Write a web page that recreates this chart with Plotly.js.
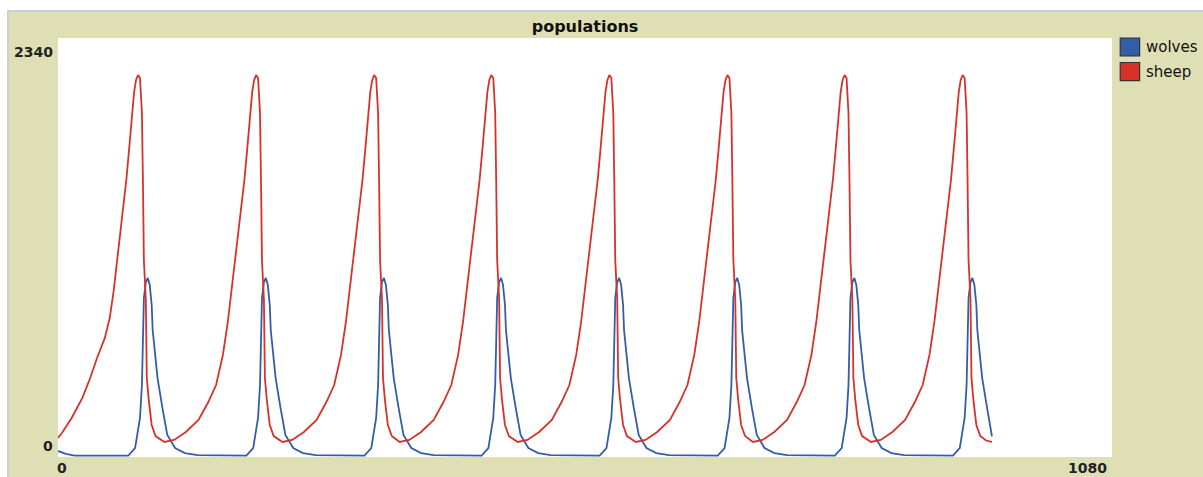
<!DOCTYPE html>
<html>
<head>
<meta charset="utf-8">
<script src="https://cdn.plot.ly/plotly-3.0.1.min.js"></script>
<style>
  html, body { margin: 0; padding: 0; background: #ffffff; width: 1203px; height: 477px; overflow: hidden; }
  #frame { position: absolute; left: 7px; top: 10px; border-top: 2px solid #cfcfcf; border-left: 2px solid #cfcfcf; width: 1194px; height: 465px; }
  #chart { width: 1194px; height: 465px; }
</style>
</head>
<body>
<div id="frame"><div id="chart"></div></div>
<script>
// ---- data ----
const xRange = [0, 1080];
const yRange = [0, 2340];
const xTickLabels = ["0", "1080"];
const yTickLabels = ["0", "2340"];
const seriesNames = ["wolves", "sheep"];

const sheepT = [
  0, 4, 14, 25, 33, 40, 48, 53, 57, 62, 66, 70, 73, 76, 78, 80, 82, 84, 85, 86, 87, 88, 90, 91, 93, 96, 100, 107,
  109, 119, 131, 144, 154, 162, 169, 174, 178, 183, 187, 191, 194, 197, 199, 201, 203, 205, 206, 207, 208, 209, 211, 212, 214, 217, 221, 228,
  230, 240, 252, 265, 275, 283, 290, 295, 299, 304, 308, 312, 315, 318, 320, 322, 324, 326, 327, 328, 329, 330, 332, 333, 335, 338, 342, 349,
  350, 360, 372, 385, 395, 403, 410, 415, 419, 424, 428, 432, 435, 438, 440, 442, 444, 446, 447, 448, 449, 450, 452, 453, 455, 458, 462, 469,
  471, 481, 493, 506, 516, 524, 531, 536, 540, 545, 549, 553, 556, 559, 561, 563, 565, 567, 568, 569, 570, 571, 573, 574, 576, 579, 583, 590,
  592, 602, 614, 627, 637, 645, 652, 657, 661, 666, 670, 674, 677, 680, 682, 684, 686, 688, 689, 690, 691, 692, 694, 695, 697, 700, 704, 711,
  712, 722, 734, 747, 757, 765, 772, 777, 781, 786, 790, 794, 797, 800, 802, 804, 806, 808, 809, 810, 811, 812, 814, 815, 817, 820, 824, 831,
  833, 843, 855, 868, 878, 886, 893, 898, 902, 907, 911, 915, 918, 921, 923, 925, 927, 929, 930, 931, 932, 933, 935, 936, 938, 941, 945, 951, 957
];
const sheepN = [
  106, 134, 218, 330, 441, 553, 665, 776, 927, 1156, 1352, 1547, 1726, 1938, 2039, 2106, 2133, 2117, 2022, 1921, 1547, 1100, 877, 441, 318, 179, 117, 89,
  84, 95, 140, 207, 307, 402, 570, 754, 933, 1156, 1352, 1547, 1726, 1938, 2039, 2106, 2133, 2117, 2022, 1921, 1547, 1100, 877, 441, 318, 179, 117, 89,
  84, 95, 140, 207, 307, 402, 570, 754, 933, 1156, 1352, 1547, 1726, 1938, 2039, 2106, 2133, 2117, 2022, 1921, 1547, 1100, 877, 441, 318, 179, 117, 89,
  84, 95, 140, 207, 307, 402, 570, 754, 933, 1156, 1352, 1547, 1726, 1938, 2039, 2106, 2133, 2117, 2022, 1921, 1547, 1100, 877, 441, 318, 179, 117, 89,
  84, 95, 140, 207, 307, 402, 570, 754, 933, 1156, 1352, 1547, 1726, 1938, 2039, 2106, 2133, 2117, 2022, 1921, 1547, 1100, 877, 441, 318, 179, 117, 89,
  84, 95, 140, 207, 307, 402, 570, 754, 933, 1156, 1352, 1547, 1726, 1938, 2039, 2106, 2133, 2117, 2022, 1921, 1547, 1100, 877, 441, 318, 179, 117, 89,
  84, 95, 140, 207, 307, 402, 570, 754, 933, 1156, 1352, 1547, 1726, 1938, 2039, 2106, 2133, 2117, 2022, 1921, 1547, 1100, 877, 441, 318, 179, 117, 89,
  84, 95, 140, 207, 307, 402, 570, 754, 933, 1156, 1352, 1547, 1726, 1938, 2039, 2106, 2133, 2117, 2022, 1921, 1547, 1100, 877, 441, 318, 179, 117, 92, 84
];

const wolvesT = [
  0, 8, 17, 72, 79, 84, 86, 87, 88, 90, 92, 94, 96, 97, 99, 102, 107, 112, 120, 130, 143,
  193, 200, 205, 207, 208, 209, 211, 213, 215, 217, 218, 220, 223, 228, 233, 241, 251, 264,
  314, 321, 326, 328, 329, 330, 332, 334, 336, 338, 339, 341, 344, 349, 354, 362, 372, 385,
  434, 441, 446, 448, 449, 450, 452, 454, 456, 458, 459, 461, 464, 469, 474, 482, 492, 505,
  555, 562, 567, 569, 570, 571, 573, 575, 577, 579, 580, 582, 585, 590, 595, 603, 613, 626,
  676, 683, 688, 690, 691, 692, 694, 696, 698, 700, 701, 703, 706, 711, 716, 724, 734, 747,
  796, 803, 808, 810, 811, 812, 814, 816, 818, 820, 821, 823, 826, 831, 836, 844, 854, 867,
  917, 924, 929, 931, 932, 933, 935, 937, 939, 941, 942, 944, 947, 952, 957
];
const wolvesN = [
  34, 17, 8, 8, 50, 218, 402, 665, 888, 977, 1000, 961, 849, 709, 609, 441, 274, 123, 50, 22, 11,
  8, 50, 218, 402, 665, 888, 977, 1000, 961, 849, 709, 609, 441, 274, 123, 50, 22, 11,
  8, 50, 218, 402, 665, 888, 977, 1000, 961, 849, 709, 609, 441, 274, 123, 50, 22, 11,
  8, 50, 218, 402, 665, 888, 977, 1000, 961, 849, 709, 609, 441, 274, 123, 50, 22, 11,
  8, 50, 218, 402, 665, 888, 977, 1000, 961, 849, 709, 609, 441, 274, 123, 50, 22, 11,
  8, 50, 218, 402, 665, 888, 977, 1000, 961, 849, 709, 609, 441, 274, 123, 50, 22, 11,
  8, 50, 218, 402, 665, 888, 977, 1000, 961, 849, 709, 609, 441, 274, 123, 50, 22, 11,
  8, 50, 218, 402, 665, 888, 977, 1000, 961, 849, 709, 609, 441, 274, 115
];

const colors = { wolves: "#345da9", sheep: "#d73229" };
const khaki = "#dfdfb6";
const labelFont = { family: "DejaVu Sans, Verdana, sans-serif", size: 14, color: "#222222" };

const traces = [
  { x: wolvesT, y: wolvesN, type: "scatter", mode: "lines", name: seriesNames[0],
    line: { color: colors.wolves, width: 1.8 }, showlegend: false, hoverinfo: "skip" },
  { x: sheepT, y: sheepN, type: "scatter", mode: "lines", name: seriesNames[1],
    line: { color: colors.sheep, width: 1.8 }, showlegend: false, hoverinfo: "skip" }
];

// legend: squares + names (NetLogo style), placed right of plot area
const legendShapes = [];
const legendAnn = [];
seriesNames.forEach((nm, i) => {
  const top = 1.0 - i * 0.0585;
  legendShapes.push({ type: "rect", xref: "paper", yref: "paper",
    x0: 1.0078, x1: 1.0262, y0: top - 0.043, y1: top,
    fillcolor: colors[nm], line: { color: "#333333", width: 1.2 } });
  legendAnn.push({ xref: "paper", yref: "paper", x: 1.0305, y: top - 0.0215,
    xanchor: "left", yanchor: "middle", showarrow: false, text: nm,
    font: { family: "DejaVu Sans, Verdana, sans-serif", size: 15, color: "#111111" } });
});

const tickAnn = [
  { xref: "paper", yref: "paper", x: -0.003, y: 1.0, xanchor: "right", yanchor: "top", yshift: -4,
    showarrow: false, text: "<b>" + yTickLabels[1] + "</b>", font: labelFont },
  { xref: "paper", yref: "paper", x: -0.003, y: 0.0, xanchor: "right", yanchor: "bottom", yshift: 1,
    showarrow: false, text: "<b>" + yTickLabels[0] + "</b>", font: labelFont },
  { xref: "paper", yref: "paper", x: 0.0, y: 0.0, xanchor: "left", yanchor: "top", yshift: -1, xshift: -3,
    showarrow: false, text: "<b>" + xTickLabels[0] + "</b>", font: labelFont },
  { xref: "paper", yref: "paper", x: 0.995, y: 0.0, xanchor: "right", yanchor: "top", yshift: -1, xshift: 2,
    showarrow: false, text: "<b>" + xTickLabels[1] + "</b>", font: labelFont }
];

const layout = {
  width: 1194, height: 465,
  margin: { l: 49, r: 91, t: 26, b: 20, pad: 0 },
  paper_bgcolor: khaki,
  plot_bgcolor: "#ffffff",
  title: { text: "<b>populations</b>", x: 0.5, xref: "paper", y: 0.968, yref: "container",
    xanchor: "center", yanchor: "middle",
    font: { family: "DejaVu Sans, Verdana, sans-serif", size: 16, color: "#111111" } },
  xaxis: { range: xRange, showgrid: false, zeroline: false, showline: false, showticklabels: false, ticks: "", fixedrange: true },
  yaxis: { range: yRange, showgrid: false, zeroline: false, showline: false, showticklabels: false, ticks: "", fixedrange: true },
  showlegend: false,
  shapes: legendShapes,
  annotations: tickAnn.concat(legendAnn)
};

Plotly.newPlot("chart", traces, layout, { staticPlot: true, displayModeBar: false });
</script>
</body>
</html>
